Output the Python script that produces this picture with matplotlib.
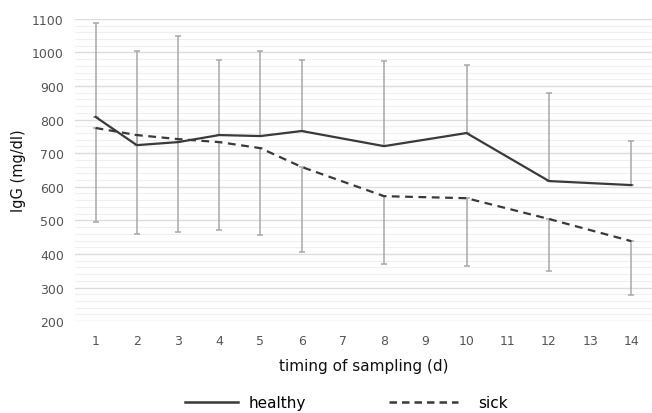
import numpy as np
import matplotlib
matplotlib.use('Agg')
import matplotlib.pyplot as plt
from matplotlib.lines import Line2D

# data
days = [1, 2, 3, 4, 5, 6, 8, 10, 12, 14]
healthy = [808, 724, 733, 754, 751, 766, 721, 760, 617, 605]
healthy_top = [1088, 1005, 1049, 978, 1005, 978, 975, 963, 879, 736]
sick = [775, 754, 742, 733, 715, 659, 572, 566, 504, 438]
sick_bottom = [495, 459, 465, 471, 456, 406, 370, 364, 349, 277]
xticks = list(range(1, 15))
yticks = list(range(200, 1101, 100))

line_col = '#3a3a3a'
err_col = '#a8a8a8'

fig = plt.figure(figsize=(6.52, 4.14), dpi=100)
ax = fig.add_axes([0.115, 0.222, 0.885, 0.730])

d = np.array(days)
h = np.array(healthy)
s = np.array(sick)

# error bars (healthy up, sick down)
ax.errorbar(d, h, yerr=[np.zeros_like(h), np.array(healthy_top) - h], fmt='none',
            ecolor=err_col, elinewidth=1.1, capsize=2, capthick=1.1, zorder=2)
ax.errorbar(d, s, yerr=[s - np.array(sick_bottom), np.zeros_like(s)], fmt='none',
            ecolor=err_col, elinewidth=1.1, capsize=2, capthick=1.1, zorder=2)

ax.plot(d, h, color=line_col, lw=1.6, zorder=3)
ax.plot(d, s, color=line_col, lw=1.6, ls=(0, (3.5, 2.5)), zorder=3)

ax.set_xlim(0.5, 14.5)
ax.set_ylim(200, 1100)
ax.set_xticks(xticks)
ax.set_yticks(yticks)
ax.set_yticks(np.arange(200, 1100, 20), minor=True)
ax.grid(axis='y', which='major', color='#dcdcdc', lw=1.0, zorder=0)
ax.grid(axis='y', which='minor', color='#efefef', lw=0.8, zorder=0)
for sp in ax.spines.values():
    sp.set_visible(False)
ax.tick_params(axis='both', which='both', length=0, colors='#555555', labelsize=9)
ax.tick_params(axis='x', pad=9)
ax.tick_params(axis='y', pad=8)

ax.set_xlabel('timing of sampling (d)', fontsize=11, color='#111111', labelpad=8)
ax.set_ylabel('IgG (mg/dl)', fontsize=10.5, color='#111111', labelpad=4)

# legend below the axes, one entry each
fig.legend([Line2D([], [], color=line_col, lw=1.8)], ['healthy'],
           loc='center left', bbox_to_anchor=(0.262, 0.025), frameon=False,
           fontsize=11, handlelength=3.5, handletextpad=0.7)
fig.legend([Line2D([], [], color=line_col, lw=1.8, ls=(0, (3, 2)))], ['sick'],
           loc='center left', bbox_to_anchor=(0.576, 0.025), frameon=False,
           fontsize=11, handlelength=4.5, handletextpad=1.3)

fig.savefig('out.png', dpi=100)
